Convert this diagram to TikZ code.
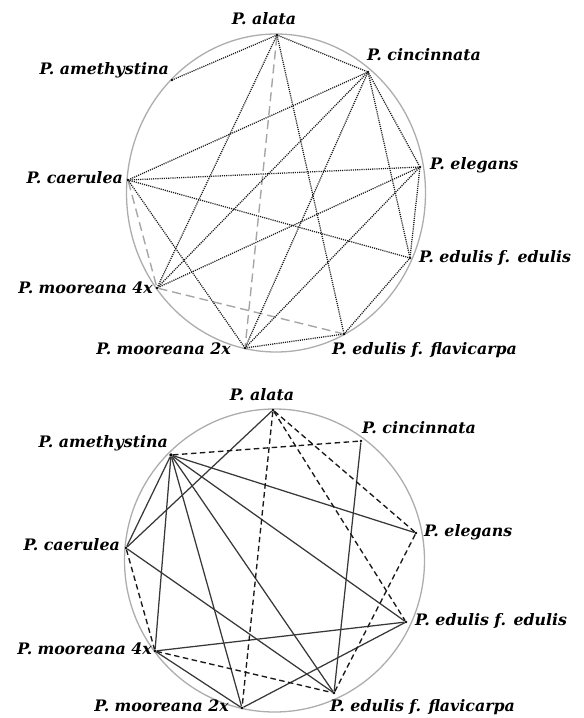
\documentclass[tikz,border=0pt]{standalone}
\usepackage{fontspec}
\setmainfont{DejaVu Serif}
\begin{document}
\begin{tikzpicture}[x=1pt,y=-1pt,
  pt/.style={circle,fill=black,inner sep=0pt,minimum size=2.8pt},
  lab/.style={font=\fontsize{15.8}{17}\selectfont\bfseries\itshape,inner sep=0pt},
  ring/.style={draw=black!32,line width=1.3pt},
  dotline/.style={black!90,line width=1.25pt,dash pattern=on 1.1pt off 1.05pt},
  graydash/.style={black!35,line width=1.4pt,dash pattern=on 9pt off 5pt},
  blackdash/.style={black!90,line width=1.35pt,dash pattern=on 5.5pt off 3.5pt},
  solidline/.style={black!78,line width=1.25pt}]
\useasboundingbox (0,0) rectangle (584,718);
% ---------- top diagram ----------
\draw[ring] (276,193) ellipse [x radius=149.5, y radius=159];
\node[pt] (a1) at (277,35) {};
\node[pt] (c1) at (368,72) {};
\node[pt] (m1) at (172,80) {};
\node[pt] (el1) at (420,167) {};
\node[pt] (ca1) at (128,180) {};
\node[pt] (ed1) at (410,258) {};
\node[pt] (f1) at (157,288) {};
\node[pt] (t1) at (245,348) {};
\node[pt] (fl1) at (344,334) {};
\node[lab,anchor=center] (la1) at (264,19) {P. alata};
\node[lab,anchor=mid west] (lc1) at (367,58) {P. cincinnata};
\node[lab,anchor=mid east] (lm1) at (169,72) {P. amethystina};
\node[lab,anchor=mid west] (lel1) at (430,167) {P. elegans};
\node[lab,anchor=mid east] (lca1) at (123,181) {P. caerulea};
\node[lab,anchor=mid west] (led1) at (419,260) {P. edulis f. edulis};
\node[lab,anchor=mid east] (lf1) at (153,291) {P. mooreana 4x};
\node[lab,anchor=mid east] (lt1) at (231,352) {P. mooreana 2x};
\node[lab,anchor=mid west] (lfl1) at (332,352) {P. edulis f. flavicarpa};
\draw[graydash] (a1) -- (t1);
\draw[graydash] (ca1) -- (f1);
\draw[graydash] (f1) -- (fl1);
\draw[dotline] (a1) -- (m1);
\draw[dotline] (a1) -- (c1);
\draw[dotline] (a1) -- (f1);
\draw[dotline] (a1) -- (fl1);
\draw[dotline] (c1) -- (ca1);
\draw[dotline] (c1) -- (f1);
\draw[dotline] (c1) -- (t1);
\draw[dotline] (c1) -- (el1);
\draw[dotline] (c1) -- (ed1);
\draw[dotline] (el1) -- (ca1);
\draw[dotline] (el1) -- (f1);
\draw[dotline] (el1) -- (t1);
\draw[dotline] (el1) -- (ed1);
\draw[dotline] (ca1) -- (ed1);
\draw[dotline] (ca1) -- (t1);
\draw[dotline] (ed1) -- (fl1);
\draw[dotline] (t1) -- (fl1);
% ---------- bottom diagram ----------
\draw[ring] (274.5,560.5) ellipse [x radius=150, y radius=151.5];
\node[pt] (a2) at (273,410) {};
\node[pt] (c2) at (361,441) {};
\node[pt,minimum size=3.6pt] (m2) at (171,455) {};
\node[pt] (el2) at (416,533) {};
\node[pt] (ca2) at (126,548) {};
\node[pt] (ed2) at (406,622) {};
\node[pt] (f2) at (155,651) {};
\node[pt] (t2) at (242,708) {};
\node[pt] (fl2) at (334,693) {};
\node[lab,anchor=center] (la2) at (262,395) {P. alata};
\node[lab,anchor=mid west] (lc2) at (362,431) {P. cincinnata};
\node[lab,anchor=mid east] (lm2) at (168,445) {P. amethystina};
\node[lab,anchor=mid west] (lel2) at (424,534) {P. elegans};
\node[lab,anchor=mid east] (lca2) at (120,548) {P. caerulea};
\node[lab,anchor=mid west] (led2) at (415,623) {P. edulis f. edulis};
\node[lab,anchor=mid east] (lf2) at (152,652) {P. mooreana 4x};
\node[lab,anchor=mid east] (lt2) at (229,709) {P. mooreana 2x};
\node[lab,anchor=mid west] (lfl2) at (330,709) {P. edulis f. flavicarpa};
\draw[solidline] (m2) -- (ca2);
\draw[solidline] (m2) -- (f2);
\draw[solidline] (m2) -- (t2);
\draw[solidline] (m2) -- (fl2);
\draw[solidline] (m2) -- (ed2);
\draw[solidline] (m2) -- (el2);
\draw[solidline] (a2) -- (ca2);
\draw[solidline] (ca2) -- (fl2);
\draw[solidline] (c2) -- (fl2);
\draw[solidline] (f2) -- (ed2);
\draw[solidline] (f2) -- (t2);
\draw[solidline] (t2) -- (ed2);
\draw[blackdash] (m2) -- (c2);
\draw[blackdash] (a2) -- (t2);
\draw[blackdash] (a2) -- (ed2);
\draw[blackdash] (a2) -- (el2);
\draw[blackdash] (ca2) -- (f2);
\draw[blackdash] (el2) -- (fl2);
\draw[blackdash] (f2) -- (fl2);
\end{tikzpicture}
\end{document}
